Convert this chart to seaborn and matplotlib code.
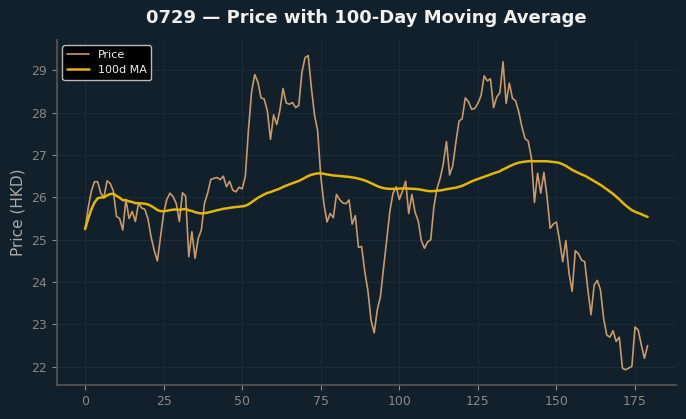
import numpy as np
import pandas as pd
import matplotlib
matplotlib.use("Agg")
import matplotlib.pyplot as plt
import seaborn as sns

# Daily closing prices (day index 0..179)
price = [
    25.25, 25.75, 26.15, 26.37, 26.37, 26.10, 26.00, 26.39, 26.33, 26.15,
    25.55, 25.50, 25.23, 25.95, 25.50, 25.67, 25.43, 25.86, 25.75, 25.72,
    25.50, 25.07, 24.75, 24.50, 25.07, 25.62, 25.95, 26.10, 26.02, 25.86,
    25.43, 26.11, 26.03, 24.60, 25.19, 24.56, 25.03, 25.23, 25.86, 26.10,
    26.42, 26.45, 26.47, 26.42, 26.50, 26.25, 26.38, 26.17, 26.13, 26.24,
    26.20, 26.50, 27.60, 28.50, 28.90, 28.72, 28.35, 28.32, 28.05, 27.37,
    27.95, 27.72, 28.06, 28.57, 28.23, 28.20, 28.24, 28.12, 28.17, 28.95,
    29.30, 29.35, 28.60, 27.95, 27.58, 26.50, 25.85, 25.42, 25.62, 25.52,
    26.07, 25.95, 25.87, 25.85, 25.94, 25.37, 25.57, 24.82, 24.84, 24.25,
    23.80, 23.10, 22.80, 23.35, 23.66, 24.35, 25.00, 25.68, 26.10, 26.25,
    25.95, 26.15, 26.38, 25.62, 26.07, 25.65, 25.45, 24.98, 24.80, 24.95,
    25.00, 25.78, 26.21, 26.45, 26.80, 27.32, 26.53, 26.75, 27.30, 27.80,
    27.86, 28.35, 28.26, 28.08, 28.10, 28.22, 28.40, 28.87, 28.75, 28.80,
    28.12, 28.37, 28.47, 29.20, 28.22, 28.70, 28.34, 28.28, 28.02, 27.67,
    27.39, 27.33, 26.95, 25.88, 26.57, 26.10, 26.59, 26.02, 25.27, 25.37,
    25.42, 24.98, 24.48, 24.98, 24.21, 23.78, 24.74, 24.67, 24.52, 24.48,
    23.82, 23.23, 23.93, 24.04, 23.82, 23.15, 22.75, 22.70, 22.85, 22.60,
    22.70, 21.97, 21.93, 21.97, 22.01, 22.94, 22.87, 22.52, 22.20, 22.50,
]
days = list(range(len(price)))
window = 100

df = pd.DataFrame({"day": days, "price": price})
df["ma"] = df["price"].rolling(window, min_periods=1).mean()

bg = "#11202a"
sns.set_theme(style="darkgrid", rc={
    "figure.facecolor": bg,
    "axes.facecolor": bg,
    "axes.edgecolor": "#555555",
    "grid.color": "#1b2b35",
    "grid.linewidth": 0.8,
    "xtick.color": "#888888",
    "ytick.color": "#888888",
    "axes.labelcolor": "#aaaaaa",
    "text.color": "#eeeeee",
    "xtick.bottom": True,
    "ytick.left": True,
})
plt.rcParams["font.family"] = ["DejaVu Sans"]

fig, ax = plt.subplots(figsize=(6.86, 4.19), dpi=100)
sns.lineplot(data=df, x="day", y="price", ax=ax, color="#c8996a", linewidth=1.2, label="Price")
sns.lineplot(data=df, x="day", y="ma", ax=ax, color="#e3b505", linewidth=1.8, label="100d MA")

ax.set_title("0729 — Price with 100-Day Moving Average", fontsize=13, fontweight="bold",
             color="#f0f0f0", pad=12)
ax.set_xlabel("")
ax.set_ylabel("Price (HKD)", fontsize=11)
ax.tick_params(labelsize=9, length=3.5, width=0.8)
for side in ["top", "right"]:
    ax.spines[side].set_visible(False)

leg = ax.legend(loc="upper left", fontsize=8, facecolor="black", edgecolor="#bbbbbb", framealpha=1)
for t in leg.get_texts():
    t.set_color("#eeeeee")

fig.subplots_adjust(left=0.083, right=0.985, top=0.905, bottom=0.08)
fig.savefig("out.png", dpi=100, facecolor=bg)
